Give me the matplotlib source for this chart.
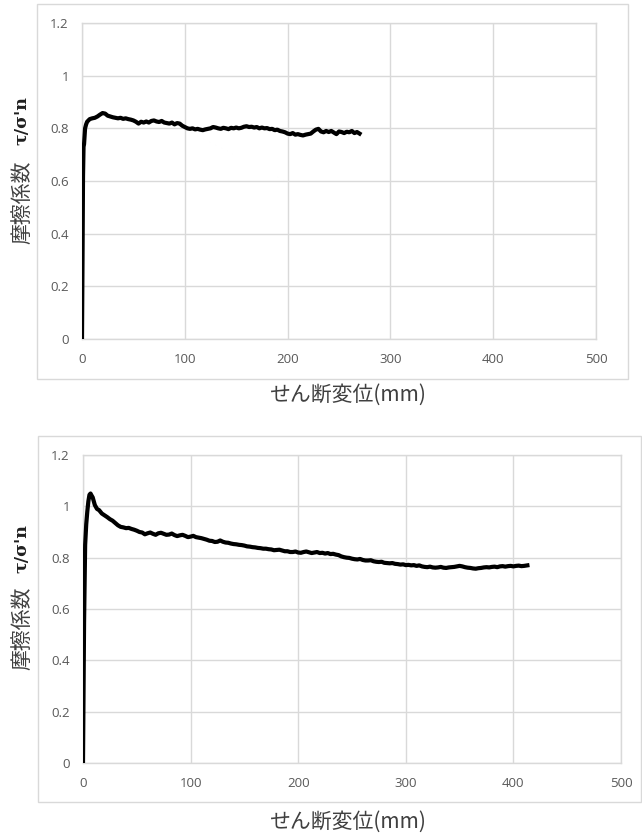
import matplotlib
matplotlib.use("Agg")
import matplotlib.pyplot as plt
from matplotlib.patches import Rectangle

# ---------------- data ----------------
top_x = [0, 0.5, 1, 1.5, 2, 3, 4, 5, 7.5, 10, 12.5, 15, 17.5, 20, 22.5, 25, 27.5, 30, 32.5, 35, 37.5,
         40, 42.5, 45, 47.5, 50, 52.5, 55, 57.5, 60, 62.5, 65, 67.5, 70, 72.5, 75, 77.5, 80, 82.5,
         85, 87.5, 90, 92.5, 95, 97.5, 100, 102.5, 105, 107.5, 110, 112.5, 115, 117.5, 120, 122.5,
         125, 127.5, 130, 132.5, 135, 137.5, 140, 142.5, 145, 147.5, 150, 152.5, 155, 157.5, 160,
         162.5, 165, 167.5, 170, 172.5, 175, 177.5, 180, 182.5, 185, 187.5, 190, 192.5, 195, 197.5,
         200, 202.5, 205, 207.5, 210, 212.5, 215, 217.5, 220, 222.5, 225, 227.5, 230, 232.5, 235,
         237.5, 240, 242.5, 245, 247.5, 250, 252.5, 255, 257.5, 260, 262.5, 265, 267.5, 270]
top_y = [0.0, 0.30, 0.62, 0.73, 0.74, 0.80, 0.815, 0.825, 0.835, 0.838, 0.840, 0.845, 0.852, 0.858,
         0.856, 0.848, 0.845, 0.842, 0.840, 0.838, 0.840, 0.836, 0.838, 0.835, 0.833, 0.830, 0.825,
         0.818, 0.825, 0.822, 0.826, 0.822, 0.828, 0.830, 0.826, 0.824, 0.828, 0.822, 0.820, 0.818,
         0.822, 0.815, 0.820, 0.818, 0.810, 0.805, 0.800, 0.798, 0.800, 0.796, 0.798, 0.795, 0.793,
         0.796, 0.798, 0.800, 0.805, 0.803, 0.800, 0.798, 0.802, 0.800, 0.797, 0.802, 0.800, 0.803,
         0.800, 0.802, 0.806, 0.808, 0.805, 0.806, 0.803, 0.805, 0.800, 0.803, 0.800, 0.801, 0.797,
         0.798, 0.793, 0.795, 0.790, 0.788, 0.785, 0.780, 0.778, 0.782, 0.776, 0.778, 0.775, 0.773,
         0.776, 0.778, 0.780, 0.788, 0.795, 0.798, 0.788, 0.785, 0.790, 0.786, 0.790, 0.784, 0.778,
         0.788, 0.786, 0.782, 0.787, 0.785, 0.790, 0.782, 0.786, 0.780]

bot_x = [0, 1, 2, 3, 4, 5, 6, 7, 8, 9, 11, 13, 15, 17.5, 20, 22.5, 25, 27.5, 30, 32.5, 35, 37.5, 40,
         42.5, 45, 47.5, 50, 52.5, 55, 57.5, 60, 62.5, 65, 67.5, 70, 72.5, 75, 77.5, 80, 82.5, 85,
         87.5, 90, 92.5, 95, 97.5, 100, 102.5, 105, 107.5, 110, 112.5, 115, 117.5, 120, 122.5, 125,
         127.5, 130, 132.5, 135, 137.5, 140, 142.5, 145, 147.5, 150, 152.5, 155, 157.5, 160, 162.5,
         165, 167.5, 170, 172.5, 175, 177.5, 180, 182.5, 185, 187.5, 190, 192.5, 195, 197.5, 200,
         202.5, 205, 207.5, 210, 212.5, 215, 217.5, 220, 222.5, 225, 227.5, 230, 232.5, 235, 237.5,
         240, 242.5, 245, 247.5, 250, 252.5, 255, 257.5, 260, 262.5, 265, 267.5, 270, 272.5, 275,
         277.5, 280, 282.5, 285, 287.5, 290, 292.5, 295, 297.5, 300, 302.5, 305, 307.5, 310, 312.5,
         315, 317.5, 320, 322.5, 325, 327.5, 330, 332.5, 335, 337.5, 340, 342.5, 345, 347.5, 350,
         352.5, 355, 357.5, 360, 362.5, 365, 367.5, 370, 372.5, 375, 377.5, 380, 382.5, 385, 387.5,
         390, 392.5, 395, 397.5, 400, 402.5, 405, 407.5, 410, 413]
bot_y = [0.0, 0.55, 0.85, 0.93, 0.98, 1.02, 1.045, 1.05, 1.042, 1.035, 1.005, 0.990, 0.985, 0.972,
         0.965, 0.958, 0.950, 0.944, 0.935, 0.926, 0.920, 0.918, 0.915, 0.916, 0.912, 0.909, 0.905,
         0.900, 0.898, 0.891, 0.895, 0.898, 0.893, 0.889, 0.895, 0.897, 0.893, 0.889, 0.890, 0.894,
         0.888, 0.884, 0.887, 0.889, 0.885, 0.880, 0.882, 0.885, 0.880, 0.878, 0.876, 0.873, 0.870,
         0.866, 0.865, 0.861, 0.862, 0.867, 0.862, 0.859, 0.858, 0.855, 0.853, 0.852, 0.850, 0.849,
         0.847, 0.844, 0.843, 0.841, 0.840, 0.838, 0.837, 0.835, 0.835, 0.833, 0.832, 0.829, 0.830,
         0.831, 0.828, 0.825, 0.825, 0.822, 0.822, 0.824, 0.820, 0.819, 0.822, 0.824, 0.821, 0.818,
         0.820, 0.822, 0.818, 0.819, 0.816, 0.818, 0.814, 0.815, 0.812, 0.810, 0.805, 0.802, 0.800,
         0.799, 0.796, 0.794, 0.793, 0.795, 0.791, 0.789, 0.789, 0.790, 0.786, 0.784, 0.783, 0.784,
         0.780, 0.779, 0.778, 0.779, 0.776, 0.775, 0.773, 0.774, 0.771, 0.772, 0.770, 0.771, 0.768,
         0.770, 0.766, 0.764, 0.763, 0.765, 0.762, 0.761, 0.762, 0.764, 0.761, 0.760, 0.762, 0.763,
         0.764, 0.766, 0.768, 0.766, 0.763, 0.761, 0.760, 0.758, 0.757, 0.759, 0.760, 0.762, 0.763,
         0.762, 0.764, 0.765, 0.763, 0.766, 0.767, 0.765, 0.767, 0.768, 0.766, 0.768, 0.769, 0.767,
         0.768, 0.770]

x_ticks = [0, 100, 200, 300, 400, 500]
y_ticks = [0, 0.2, 0.4, 0.6, 0.8, 1.0, 1.2]
y_tick_labels = ["0", "0.2", "0.4", "0.6", "0.8", "1", "1.2"]
x_label = "せん断変位(mm)"
y_label_jp = "摩擦係数"
y_label_sym = "τ/σ'n"

# ---------------- figure ----------------
W, H = 642, 835
fig = plt.figure(figsize=(W / 100, H / 100), dpi=100)
fig.patch.set_facecolor("white")

GRID = "#d9d9d9"
TICKC = "#595959"
TEXTC = "#404040"
JP = ["Noto Sans CJK JP", "DejaVu Sans"]


def px_rect(x0, y0, x1, y1):
    return [x0 / W, 1 - y1 / H, (x1 - x0) / W, (y1 - y0) / H]


def add_frame(x0, y0, x1, y1):
    l, b, w, h = px_rect(x0, y0, x1, y1)
    fig.patches.append(Rectangle((l, b), w, h, transform=fig.transFigure,
                                 fill=False, edgecolor=GRID, linewidth=1.0, zorder=0))


def make_axes(rect, xs, ys):
    ax = fig.add_axes(rect)
    ax.plot(xs, ys, color="black", linewidth=3.0, solid_joinstyle="round", zorder=3)
    ax.set_xlim(0, 500)
    ax.set_ylim(0, 1.2)
    ax.set_xticks(x_ticks)
    ax.set_xticklabels([str(t) for t in x_ticks])
    ax.set_yticks(y_ticks)
    ax.set_yticklabels(y_tick_labels)
    ax.grid(True, color=GRID, linewidth=1.0)
    ax.set_axisbelow(True)
    for s in ax.spines.values():
        s.set_color(GRID)
        s.set_linewidth(1.0)
    ax.tick_params(axis="both", length=0, colors=TICKC, labelsize=9.5)
    ax.tick_params(axis="x", pad=10)
    ax.tick_params(axis="y", pad=9.5)
    for lab in ax.get_xticklabels() + ax.get_yticklabels():
        lab.set_family(["Open Sans", "DejaVu Sans"])
    return ax


def labels(xl_y, jp_y, sym_y):
    fig.text(347 / W, 1 - xl_y / H, x_label, ha="center", va="center",
             fontsize=15, color=TEXTC, family=JP)
    fig.text(22 / W, 1 - jp_y / H, y_label_jp, ha="center", va="center", rotation=90,
             fontsize=15, color=TEXTC, family=JP)
    fig.text(22 / W, 1 - sym_y / H, y_label_sym, ha="center", va="center", rotation=90,
             fontsize=12.5, color="#202020", family=["DejaVu Serif"], fontweight="bold")


# top chart
add_frame(37, 4, 628, 379)
ax1 = make_axes(px_rect(82, 23, 596, 339), top_x, top_y)
labels(395, 202, 121)

# bottom chart
add_frame(38, 436, 641, 802)
ax2 = make_axes(px_rect(83, 455, 621, 763), bot_x, bot_y)
labels(822, 628, 549)

fig.savefig("out.png", dpi=100, facecolor="white")
